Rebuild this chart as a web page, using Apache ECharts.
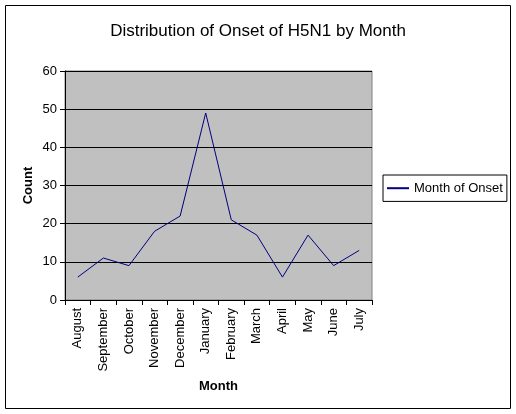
<!DOCTYPE html>
<html>
<head>
    <title>Distribution of Onset of H5N1 by Month</title>
    <script src="https://cdn.jsdelivr.net/npm/echarts@6.0.0/dist/echarts.min.js"></script>
    <style>
        html, body { margin: 0; padding: 0; background: #fff; }
    </style>
</head>
<body>
    <div id="chart" style="width: 516px;height:414px"></div>

    <script>
        const months = ['August', 'September', 'October', 'November', 'December', 'January',
            'February', 'March', 'April', 'May', 'June', 'July']
        const onsetCounts = [6, 11, 9, 18, 22, 49, 21, 17, 6, 17, 9, 13]
        const countTicks = { min: 0, max: 60, interval: 10 }

        const font = 'Liberation Sans, Arial, sans-serif'
        const chart = echarts.init(document.getElementById('chart'))
        chart.setOption({
            animation: false,
            backgroundColor: '#fff',
            title: {
                text: 'Distribution of Onset of H5N1 by Month',
                left: 'center',
                top: 12,
                textStyle: { fontFamily: font, fontSize: 17, fontWeight: 'normal', color: '#000' }
            },
            graphic: [{
                type: 'rect',
                shape: { x: 5.5, y: 5.5, width: 505, height: 403 },
                style: { fill: 'none', stroke: '#000', lineWidth: 1 },
                silent: true
            }],
            grid: {
                left: 65, right: 144, top: 71, bottom: 114,
                show: true, backgroundColor: '#c0c0c0', borderColor: '#808080', borderWidth: 1
            },
            legend: {
                left: 383, top: 175,
                orient: 'vertical',
                padding: [2, 4, 2, 4],
                borderColor: '#000', borderWidth: 1,
                itemWidth: 22, itemHeight: 2, itemGap: 0,
                icon: 'rect',
                textStyle: { fontFamily: font, fontSize: 13, color: '#000' },
                data: ['Month of Onset']
            },
            xAxis: {
                type: 'category',
                data: months,
                boundaryGap: true,
                name: 'Month',
                nameLocation: 'middle',
                nameGap: 75,
                nameMoveOverlap: false,
                nameTextStyle: { fontFamily: font, fontSize: 13, fontWeight: 'bold', color: '#000' },
                axisLine: { lineStyle: { color: '#000', width: 1 } },
                axisTick: { show: true, inside: false, length: 5, lineStyle: { color: '#000' } },
                axisLabel: { rotate: 90, interval: 0, margin: 8, fontFamily: font, fontSize: 13, color: '#000' },
                splitLine: { show: false }
            },
            yAxis: {
                type: 'value',
                min: countTicks.min,
                max: countTicks.max,
                interval: countTicks.interval,
                name: 'Count',
                nameLocation: 'middle',
                nameGap: 25,
                nameMoveOverlap: false,
                nameRotate: 90,
                nameTextStyle: { fontFamily: font, fontSize: 13, fontWeight: 'bold', color: '#000' },
                axisLine: { show: true, lineStyle: { color: '#000', width: 1 } },
                axisTick: { show: true, inside: false, length: 5, lineStyle: { color: '#000' } },
                axisLabel: { margin: 8, fontFamily: font, fontSize: 13, color: '#000' },
                splitLine: { show: true, lineStyle: { color: '#000', width: 1 } }
            },
            series: [{
                name: 'Month of Onset',
                type: 'line',
                data: onsetCounts,
                symbol: 'none',
                lineStyle: { color: '#000080', width: 1 },
                itemStyle: { color: '#000080' }
            }]
        })
    </script>
</body>
</html>
